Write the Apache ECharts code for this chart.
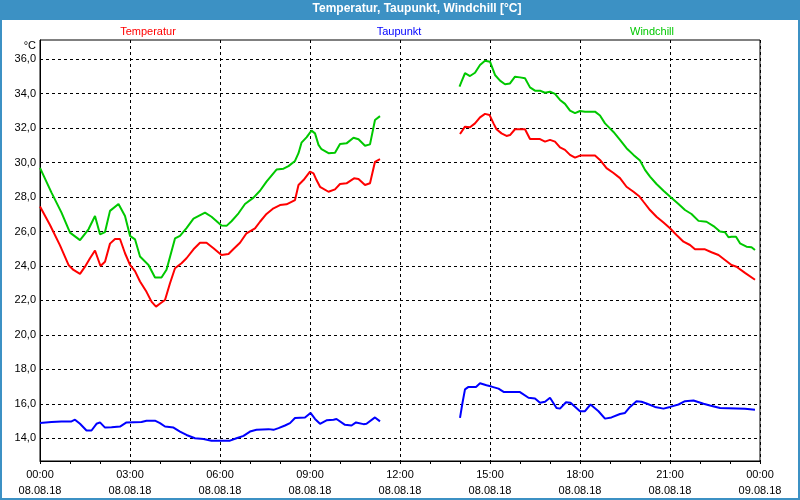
<!DOCTYPE html>
<html>
<head>
<meta charset="utf-8">
<script src="https://cdn.jsdelivr.net/npm/echarts@6/dist/echarts.min.js"></script>
<style>
html,body{margin:0;padding:0;background:#fff;}
#chart{width:800px;height:500px;}
</style>
</head>
<body>
<div id="chart"></div>
<script>
// x values are minutes since 08.08.18 00:00; null marks the data gap
var tempTimes = [0,20,40,57,67,80,90,100,110,121,130,140,150,160,170,180,190,200,213,223,232,241,250,260,270,283,293,307,320,333,347,363,377,387,400,413,430,440,453,467,480,493,510,517,527,540,547,553,560,577,590,600,613,628,637,650,660,670,680,
  760,
  840,850,860,870,880,890,899,907,913,923,933,940,950,970,980,1000,1010,1020,1030,1040,1050,1060,1070,1080,1110,1120,1133,1147,1160,1173,1187,1199,1207,1220,1233,1247,1260,1273,1287,1300,1310,1330,1343,1357,1370,1383,1393,1410,1430];
var tempValues = [27.45,26.38,25.2,24.06,23.77,23.54,23.96,24.45,24.9,24.0,24.25,25.3,25.57,25.57,24.74,24.06,23.7,23.1,22.5,21.93,21.64,21.84,22.03,23.0,23.87,24.16,24.45,24.97,25.35,25.35,25.03,24.64,24.7,24.99,25.35,25.9,26.19,26.57,27.02,27.35,27.54,27.58,27.83,28.7,28.99,29.48,29.38,28.99,28.6,28.31,28.45,28.76,28.8,29.09,29.05,28.7,28.8,30.05,30.2,
  null,
  31.66,32.09,32.05,32.28,32.63,32.83,32.77,32.28,31.94,31.7,31.55,31.6,31.94,31.94,31.37,31.37,31.22,31.32,31.22,30.89,30.74,30.45,30.29,30.41,30.41,30.16,29.68,29.4,29.1,28.6,28.31,28.03,27.73,27.25,26.86,26.52,26.19,25.8,25.41,25.22,24.97,24.97,24.8,24.64,24.35,24.06,23.96,23.6,23.2];

var dewTimes = [0,23,43,63,70,80,93,103,113,120,130,143,160,173,203,213,230,240,250,267,280,293,310,327,343,380,393,407,420,433,457,467,477,490,500,510,530,541,550,560,573,587,593,610,623,632,647,653,670,680,
  760,
  840,845,850,857,872,880,893,903,917,928,960,977,990,1000,1010,1020,1033,1040,1052,1061,1080,1090,1101,1117,1130,1143,1160,1170,1180,1193,1203,1213,1230,1247,1260,1277,1290,1307,1327,1340,1360,1410,1430];
var dewValues = [14.88,14.94,14.98,14.98,15.08,14.84,14.45,14.45,14.84,14.92,14.62,14.64,14.68,14.92,14.94,15.02,15.02,14.88,14.68,14.62,14.39,14.19,14.0,13.96,13.86,13.86,14.0,14.14,14.39,14.49,14.53,14.49,14.59,14.74,14.88,15.18,15.21,15.47,15.12,14.84,15.04,15.08,15.12,14.78,14.74,14.92,14.82,14.84,15.21,14.98,
  null,
  15.18,16.06,16.84,16.98,16.98,17.19,17.08,17.0,16.88,16.68,16.68,16.35,16.31,16.06,16.12,16.35,15.76,15.72,16.09,16.06,15.57,15.57,15.96,15.57,15.14,15.21,15.41,15.47,15.82,16.15,16.12,16.02,15.82,15.72,15.82,15.96,16.15,16.19,16.0,15.9,15.76,15.72,15.66];

var chillTimes = [0,23,43,60,80,97,110,120,130,140,157,161,170,180,190,200,217,230,243,253,270,280,293,307,330,343,363,373,383,397,410,427,440,453,473,487,497,510,517,523,533,543,550,557,563,577,590,600,613,627,637,650,660,670,680,
  760,
  839,843,850,860,870,880,890,900,910,920,930,940,950,960,970,980,990,1000,1010,1020,1030,1040,1050,1060,1070,1080,1090,1110,1120,1130,1147,1160,1173,1187,1200,1210,1220,1233,1247,1261,1277,1290,1303,1317,1333,1347,1360,1370,1377,1383,1392,1400,1413,1423,1430];
var chillValues = [29.7,28.26,27.1,25.94,25.5,26.13,26.9,25.84,25.97,27.2,27.6,27.55,26.9,25.75,25.55,24.55,24.06,23.33,23.33,23.78,25.6,25.75,26.2,26.75,27.1,26.86,26.35,26.33,26.6,27.06,27.6,27.97,28.37,28.9,29.6,29.65,29.8,30.1,30.55,31.16,31.47,31.86,31.7,31.03,30.78,30.55,30.58,31.08,31.12,31.45,31.36,30.98,31.06,32.48,32.7,
  null,
  34.41,34.7,35.19,35.03,35.22,35.67,35.92,35.86,35.09,34.76,34.55,34.6,34.99,34.95,34.9,34.37,34.18,34.18,34.06,34.12,33.99,33.64,33.41,33.02,32.87,33.0,32.96,32.96,32.74,32.28,31.78,31.32,30.84,30.45,30.12,29.58,29.19,28.76,28.37,28.0,27.6,27.25,27.02,26.62,26.57,26.32,26.0,25.96,25.67,25.7,25.7,25.32,25.12,25.09,24.93];

var yTicks = [14,16,18,20,22,24,26,28,30,32,34,36];
var xTickLabels = ['00:00\n08.08.18','03:00\n08.08.18','06:00\n08.08.18','09:00\n08.08.18','12:00\n08.08.18','15:00\n08.08.18','18:00\n08.08.18','21:00\n08.08.18','00:00\n09.08.18'];
var seriesNames = ['Temperatur','Taupunkt','Windchill'];
var seriesColors = ['#ff0000','#0000ff','#00c800'];

function pairs(t, v) {
  return t.map(function (x, i) { return [x, v[i] === null ? '-' : v[i]]; });
}

var FONT = '"Liberation Sans", Arial, sans-serif';
var chart = echarts.init(document.getElementById('chart'));

var legendCenters = [148, 399, 652];
var titles = [{
  text: 'Temperatur, Taupunkt, Windchill [°C]',
  left: 417, top: 3, textAlign: 'center', padding: 0,
  textStyle: {color: '#fff', fontFamily: FONT, fontSize: 12, fontWeight: 'bold'}
}];
seriesNames.forEach(function (n, i) {
  titles.push({
    text: n, left: legendCenters[i], top: 26, textAlign: 'center', padding: 0,
    textStyle: {color: seriesColors[i], fontFamily: FONT, fontSize: 11, fontWeight: 'normal'}
  });
});

var option = {
  animation: false,
  backgroundColor: '#ffffff',
  title: titles,
  graphic: [
    {type: 'rect', z: -1, shape: {x: 0, y: 0, width: 800, height: 20}, style: {fill: '#3c91c4'}, silent: true},
    {type: 'rect', shape: {x: 1, y: 1, width: 798, height: 498}, style: {fill: 'none', stroke: '#3c91c4', lineWidth: 2}, silent: true},
    {type: 'text', x: 36, y: 46, style: {text: '°C', align: 'right', verticalAlign: 'middle', fill: '#000', font: '11px ' + FONT}, silent: true}
  ],
  grid: {left: 40, right: 40, top: 40, bottom: 39, show: true, borderColor: '#000', borderWidth: 1, backgroundColor: 'transparent'},
  xAxis: {
    type: 'value', min: 0, max: 1440, interval: 180,
    axisLine: {lineStyle: {color: '#000', width: 1}},
    axisTick: {show: true, length: 3, lineStyle: {color: '#000'}},
    minorTick: {show: true, splitNumber: 3, length: 3, lineStyle: {color: '#000'}},
    splitLine: {show: true, lineStyle: {color: '#000', type: [3, 3], width: 1}},
    axisLabel: {
      margin: 6, color: '#000', fontFamily: FONT, fontSize: 11, lineHeight: 16,
      formatter: function (v) { return xTickLabels[Math.round(v / 180)]; }
    }
  },
  yAxis: {
    type: 'value', min: 12.68, max: 37.12,
    axisLine: {show: true, lineStyle: {color: '#000', width: 1}},
    axisTick: {show: false, customValues: yTicks},
    splitLine: {show: true, lineStyle: {color: '#000', type: [3, 3], width: 1}},
    axisLabel: {
      customValues: yTicks, margin: 4, color: '#000', fontFamily: FONT, fontSize: 11,
      formatter: function (v) { return v.toFixed(1).replace('.', ','); }
    }
  },
  series: [
    {name: seriesNames[0], type: 'line', data: pairs(tempTimes, tempValues)},
    {name: seriesNames[1], type: 'line', data: pairs(dewTimes, dewValues)},
    {name: seriesNames[2], type: 'line', data: pairs(chillTimes, chillValues)}
  ].map(function (s, i) {
    s.showSymbol = false; s.symbol = 'none'; s.connectNulls = false;
    s.lineStyle = {color: seriesColors[i], width: 2};
    s.itemStyle = {color: seriesColors[i]};
    return s;
  })
};
chart.setOption(option);
</script>
</body>
</html>
